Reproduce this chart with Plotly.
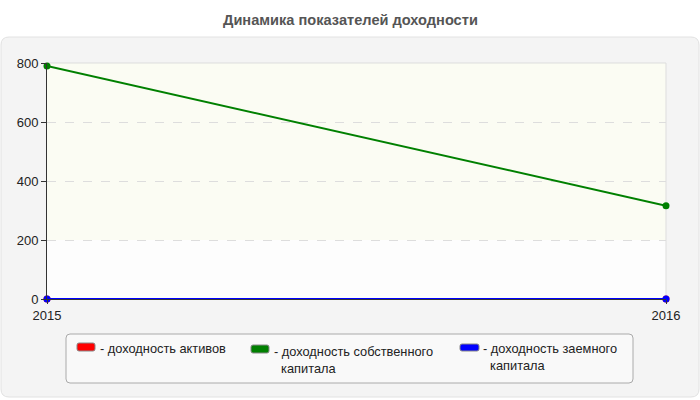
import plotly.graph_objects as go

years = ["2015", "2016"]
series_names = ["доходность активов", "доходность собственного капитала", "доходность заемного капитала"]
legend_labels = ["- доходность активов",
                 "- доходность собственного<br>  капитала",
                 "- доходность заемного<br>  капитала"]
roa = [0, 0]
roe = [790, 316]
rod = [0, 0]
colors = ["#ff0000", "#008000", "#0000ff"]
title = "Динамика показателей доходности"
y_ticks = [0, 200, 400, 600, 800]

W, H = 700, 400
L, R, T, B = 47, 666, 63, 299
FONT = "Liberation Sans, Arial"

def px(x):
    return (x - L) / (R - L)

def py(y):
    return (B - y) / (B - T)

def rounded(x0, y0, x1, y1, r):
    X0, X1 = px(x0), px(x1)
    Y0, Y1 = py(y0), py(y1)
    rx = r / (R - L)
    ry = r / (B - T)
    return (f"M {X0+rx},{Y0} L {X1-rx},{Y0} Q {X1},{Y0} {X1},{Y0-ry} "
            f"L {X1},{Y1+ry} Q {X1},{Y1} {X1-rx},{Y1} L {X0+rx},{Y1} "
            f"Q {X0},{Y1} {X0},{Y1+ry} L {X0},{Y0-ry} Q {X0},{Y0} {X0+rx},{Y0} Z")

fig = go.Figure()
for name, vals, c in zip(series_names, [roa, roe, rod], colors):
    fig.add_trace(go.Scatter(x=[0, 1], y=vals, mode="lines+markers", name=name,
                             line=dict(color=c, width=2), marker=dict(color=c, size=7),
                             showlegend=False, cliponaxis=False))

shapes = [
    dict(type="path", xref="paper", yref="paper", path=rounded(1, 37, 699, 397, 8),
         fillcolor="#f4f4f4", line=dict(color="#e2e2e2", width=1), layer="below"),
    dict(type="rect", xref="paper", yref="paper", x0=0, x1=1, y0=0, y1=1,
         fillcolor="#fdfdfd", line=dict(width=0), layer="below"),
    dict(type="rect", xref="paper", yref="y", x0=0, x1=1, y0=200, y1=800,
         fillcolor="#fbfcf3", line=dict(width=0), layer="below"),
    dict(type="line", xref="paper", yref="paper", x0=0, x1=1, y0=1, y1=1,
         line=dict(color="#dddddd", width=1), layer="below"),
    dict(type="line", xref="paper", yref="paper", x0=1, x1=1, y0=0, y1=1,
         line=dict(color="#dddddd", width=1), layer="below"),
    dict(type="path", xref="paper", yref="paper", path=rounded(66, 334, 633, 383, 4),
         fillcolor="#f9f9f9", line=dict(color="#aaaaaa", width=1), layer="above"),
]
annotations = [dict(text=f"<b>{title}</b>", xref="paper", yref="paper", x=px(350), y=py(20),
                    xanchor="center", yanchor="middle", showarrow=False,
                    font=dict(size=14.6, color="#555555", family=FONT))]

sw = [(77, 343, 95, 351), (251, 345, 269, 353), (460, 344, 479, 351)]
text_x = [99, 273, 482]
text_top = [340, 343, 340]
for i, c in enumerate(colors):
    x0, y0, x1, y1 = sw[i]
    shapes.append(dict(type="path", xref="paper", yref="paper",
                       path=rounded(x0, y0, x1, y1, 2),
                       fillcolor=c, line=dict(color="#888888", width=1), layer="above"))
    annotations.append(dict(text=legend_labels[i], xref="paper", yref="paper", x=px(text_x[i]),
                            y=py(text_top[i]), xanchor="left", yanchor="top", align="left",
                            showarrow=False, borderpad=0,
                            font=dict(size=12.8, color="#222222", family=FONT)))

fig.update_layout(
    width=W, height=H,
    margin=dict(l=L, r=W - R, t=T, b=H - B),
    paper_bgcolor="white", plot_bgcolor="rgba(0,0,0,0)",
    font=dict(family=FONT, size=13, color="#222222"),
    shapes=shapes, annotations=annotations,
    xaxis=dict(range=[0, 1], tickvals=[0, 1], ticktext=years, showgrid=False, zeroline=False,
               showline=True, linecolor="#333333", mirror=False, ticks="outside", ticklen=4,
               tickcolor="#333333", tickfont=dict(size=13, color="#222222")),
    yaxis=dict(range=[0, 800], tickvals=y_ticks, showgrid=True, gridcolor="#dddddd",
               griddash="dash", zeroline=False, showline=True, linecolor="#333333",
               ticks="outside", ticklen=5, tickcolor="#333333",
               tickfont=dict(size=13, color="#222222")),
)

fig.write_html("out.html")
